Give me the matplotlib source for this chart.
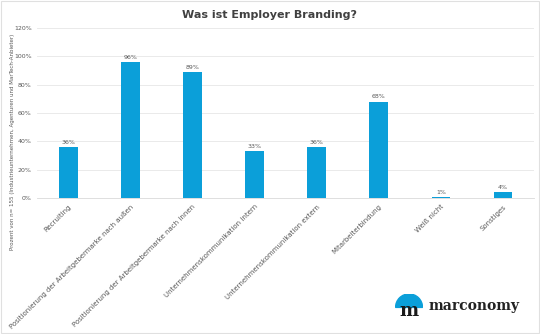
import matplotlib
matplotlib.use("Agg")
import matplotlib.pyplot as plt
import numpy as np
from matplotlib.patches import Wedge, Rectangle

categories = ["Recruiting",
              "Positionierung der Arbeitgebermarke nach außen",
              "Positionierung der Arbeitgebermarke nach innen",
              "Unternehmenskommunikation intern",
              "Unternehmenskommunikation extern",
              "Mitarbeiterbindung",
              "Weiß nicht",
              "Sonstiges"]
values = [36, 96, 89, 33, 36, 68, 1, 4]
yticks = [0, 20, 40, 60, 80, 100, 120]

blue = "#0b9fd9"
gray = "#595959"

fig = plt.figure(figsize=(5.4, 3.34), dpi=100)
ax = fig.add_axes([0.069, 0.407, 0.92, 0.51])

x = np.arange(len(categories))
ax.bar(x, values, width=0.3, color=blue, zorder=3)
for xi, v in zip(x, values):
    ax.text(xi, v + 1.5, f"{v}%", ha="center", va="bottom", fontsize=4.5, color=gray)

ax.set_ylim(0, 120)
ax.set_xlim(-0.5, len(categories) - 0.5)
ax.set_yticks(yticks)
ax.set_yticklabels([f"{t}%" for t in yticks], fontsize=4.5, color=gray)
ax.set_xticks(x)
ax.set_xticklabels(categories, rotation=45, ha="right", rotation_mode="anchor",
                   fontsize=5, color=gray)
ax.tick_params(axis="both", length=0, pad=4)
ax.grid(axis="y", color="#e6e6e6", linewidth=0.6, zorder=0)
for s in ["top", "right", "left"]:
    ax.spines[s].set_visible(False)
ax.spines["bottom"].set_color("#d9d9d9")
ax.spines["bottom"].set_linewidth(0.6)

ax.set_ylabel("Prozent von n= 155 (Industrieunternehmen, Agenturen und MarTech-Anbieter)",
              fontsize=4, color=gray)
ax.yaxis.set_label_coords(-0.045, 0.33)

fig.text(0.5, 0.955, "Was ist Employer Branding?", ha="center", va="center",
         fontsize=8, fontweight="bold", color="#404040")

# logo
lax = fig.add_axes([0.725, 0.035, 0.065, 0.085])
lax.set_xlim(-1, 1)
lax.set_ylim(-1, 1)
lax.set_aspect("equal")
lax.axis("off")
lax.add_patch(Wedge((0, 0.05), 0.95, 0, 180, color=blue))
lax.text(0, -0.2, "m", ha="center", va="center", fontsize=13, fontweight="bold",
         color="#1a1a1a", family="DejaVu Serif")
fig.text(0.793, 0.085, "marconomy", ha="left", va="center", fontsize=10,
         fontweight="bold", color="#222222", family="DejaVu Serif")

fig.patches.append(Rectangle((0.002, 0.003), 0.996, 0.994, transform=fig.transFigure,
                             fill=False, edgecolor="#e0e0e0", linewidth=0.8))

fig.savefig("out.png", dpi=100)
